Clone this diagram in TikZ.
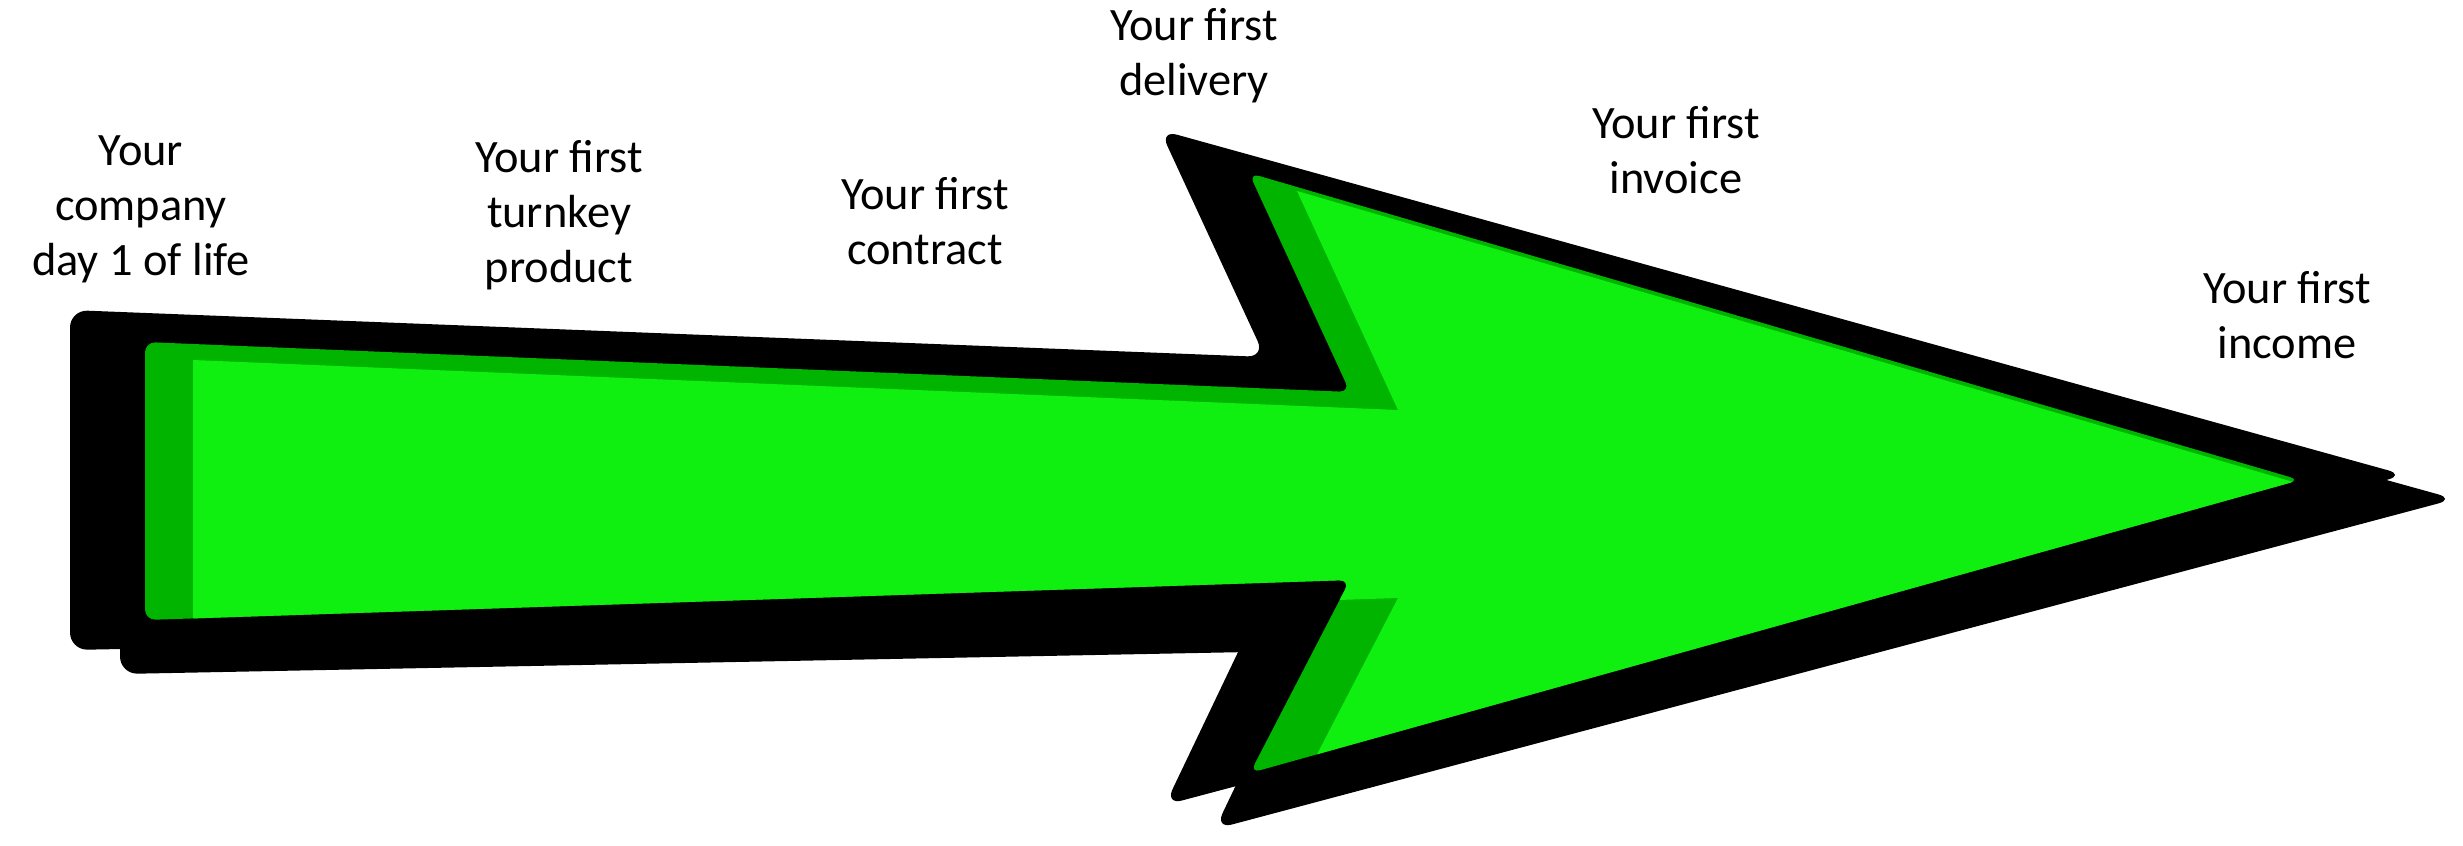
\documentclass[tikz,border=0pt]{standalone}
\usepackage{fontspec}
\setmainfont{Carlito}
\usetikzlibrary{positioning}
\definecolor{arrowgreen}{RGB}{16,240,16}
\definecolor{bevelgreen}{RGB}{0,180,0}

\begin{document}
\begin{tikzpicture}[
x=0.01cm, y=-0.01cm,
milestone/.style={
    align=center,
    inner sep=0pt,
    font=\fontsize{13.2}{15.6}\selectfont
},
outline/.style={
    insert path={(70,310) -- (1265,357) -- (1160,130) -- (2405,475)
      -- (1165,805) -- (1250,627) -- (70,650) -- cycle}
},
inside/.style={
    insert path={(145,342) -- (1350,392) -- (1249,173) -- (2300,480)
      -- (1250,773) -- (1350,580) -- (145,620) -- cycle}
}
]
\useasboundingbox (0,0) rectangle (2463,845);

% Arrow: shadow, black rim, bevel, face
\fill[black, rounded corners=5pt, shift={(50,24)}, outline];
\fill[black, rounded corners=5pt, outline];
\fill[bevelgreen, rounded corners=3pt, inside];
\begin{scope}
\clip[rounded corners=3pt, inside];
\fill[arrowgreen, shift={(48,18)}, inside];
\end{scope}

% Milestones
\node[milestone] (day1) at (141,209) {Your\\company\\day 1 of life};
\node[milestone] (turnkey) at (559,215) {Your first\\turnkey\\product};
\node[milestone] (contract) at (925,221) {Your first\\contract};
\node[milestone] (delivery) at (1194,56) {Your first\\delivery};
\node[milestone] (invoice) at (1676,150) {Your first\\invoice};
\node[milestone] (income) at (2287,315) {Your first\\income};

\end{tikzpicture}
\end{document}
